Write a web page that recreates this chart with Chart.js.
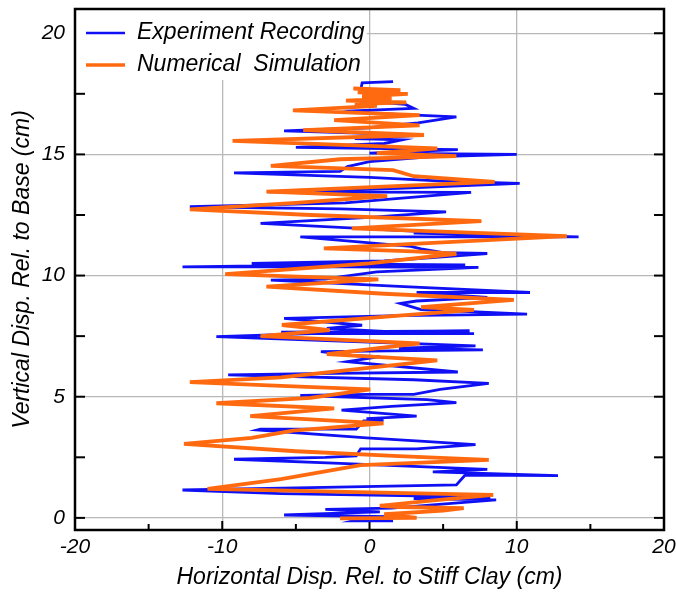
<!DOCTYPE html>
<html>
<head>
<meta charset="utf-8">
<script src="https://cdn.jsdelivr.net/npm/chart.js@4"></script>
<style>
html,body{margin:0;padding:0;background:#fff}
#wrap{width:676px;height:592px}
</style>
</head>
<body>
<div id="wrap"><canvas id="c" width="676" height="592"></canvas></div>
<script>
// ================= DATA =================
const seriesNames=["Experiment Recording","Numerical  Simulation"]
const xTicks=[-20,-10,0,10,20]
const yTicks=[0,5,10,15,20]

// experiment recording (blue), read bottom to top
const expX=[1.6,-1.1,-0.6,1.2,-5.8,-2,0.7,-3,1.5,4.5,8.6,3,8.2,-6,-12.7,-4,5.9,6.5,12.8,4.3,8,-2,-9.2,-3,-0.9,-0.6,3.2,7.2,4,-0.2,-7.6,-7.4,-0.9,-0.4,0.95,-0.2,3.2,-1.9,1.5,5.9,3.9,-4.7,0,3,4.8,8.1,3,-9.6,-4,6,-1.5,0.7,-1,-3.3,7.7,2,7.2,-2,-10.4,-4,7.1,-6,6.8,1,-2.9,-0.5,-5.8,2,10.7,3.5,2.1,3.2,8,3.2,10.9,2,-6.7,-3,-2,0.5,7.4,-2,-12.7,-5,6.5,-8,1,8,5,3.5,2.8,-4.7,14.2,3,4,-7.4,0,5.2,-2,-12.2,-5,-1.65,6.9,-6.9,2,10.2,5,0,-9.2,-2,-1.5,0,4,10,0,6,-5,1,2.2,-1,3.7,-5.8,0,2.4,3.3,5.9,0,-1,3,2.4,-0.3,0.8,-0.6,-0.5,1.6]
const expY=[-0.12,-0.12,-0.05,0.05,0.12,0.2,0.25,0.35,0.4,0.55,0.74,0.8,0.86,1.0,1.15,1.25,1.36,1.77,1.74,1.9,2.0,2.25,2.42,2.5,2.56,2.85,2.85,3.02,3.15,3.3,3.63,3.66,3.66,4.0,4.02,4.1,4.2,4.45,4.6,4.76,4.88,5.05,5.1,5.1,5.3,5.55,5.7,5.9,5.95,6.02,6.45,6.65,6.7,6.86,6.93,7.0,7.1,7.3,7.48,7.6,7.6,7.66,7.72,7.7,7.82,7.95,8.23,8.35,8.41,8.6,8.85,8.95,9.1,9.3,9.3,9.55,9.81,9.85,9.95,10.15,10.34,10.36,10.36,10.42,10.44,10.5,10.6,10.91,10.95,11.1,11.2,11.6,11.6,11.75,11.8,12.15,12.4,12.63,12.75,12.84,12.95,13.0,13.43,13.45,13.6,13.8,13.9,14.05,14.24,14.3,14.5,14.7,14.9,15.0,15.05,15.2,15.29,15.45,15.6,15.65,15.8,15.97,16.1,16.25,16.3,16.55,16.7,16.8,16.9,17.07,17.2,17.25,17.65,17.95,18.0]

// numerical simulation (orange), read bottom to top
const simX=[-2,3.2,1,5,6.4,2,0.7,4,8.4,0,-11,-6,-0.6,8.1,2,-5,-12.6,-8,-5.2,0.95,-8.1,-2.4,-10.4,-4,0.05,-6,-12.2,-6,4.6,-2.9,3.4,-7.4,-2.7,-5.95,2,7.1,3.5,9.8,1,-7,0.6,-9.8,0,5.9,3,-3.1,13.4,-1.2,7.6,-4,-12.2,-5,1.2,-7,8.5,3,1.6,-6.7,-2,5.9,0.5,4.6,-9.3,3.7,-4.5,3.4,-2.4,3.4,-5.2,0.5,-1,2.5,-1.6,1.5,-0.5,2.6,-0.8,2.1,-1.1]
const simY=[-0.02,0.0,0.15,0.3,0.4,0.45,0.5,0.7,0.95,1.05,1.2,1.6,2.18,2.39,2.55,2.75,3.05,3.3,3.6,3.9,4.2,4.52,4.73,4.95,5.3,5.45,5.6,5.8,6.5,6.76,7.2,7.5,7.75,7.96,8.35,8.58,8.7,9.0,9.25,9.54,9.84,10.06,10.5,10.9,11.0,11.12,11.63,11.95,12.25,12.5,12.73,13.0,13.28,13.46,13.87,14.1,14.35,14.53,14.8,14.93,15.05,15.25,15.56,15.8,16.0,16.2,16.41,16.62,16.82,17.0,17.08,17.15,17.22,17.3,17.4,17.5,17.56,17.65,17.72]

const blue="#1010f5"
const orange="#ff6a10"

function toPoints(xs,ys){
return xs.map((x,i)=>({x:x,y:ys[i]}))
}

// no automatic label padding, the layout padding sets the plot box
function noPad(s){
s.paddingTop=0;s.paddingBottom=0;s.paddingLeft=0;s.paddingRight=0
}

// ================= DECORATIONS =================
// inside ticks, frame and the boxed legend
const frame={
id:"frame",
beforeDatasetsDraw(chart){
const ctx=chart.ctx,a=chart.chartArea
const xs=chart.scales.x,ys=chart.scales.y
ctx.save()
ctx.strokeStyle="#000"
ctx.lineWidth=2
;[-20,-15,-10,-5,0,5,10,15,20].forEach(v=>{
let px=xs.getPixelForValue(v)
let len=v%10===0?9:6
ctx.beginPath();ctx.moveTo(px,a.bottom);ctx.lineTo(px,a.bottom-len);ctx.stroke()
})
;[0,2.5,5,7.5,10,12.5,15,17.5,20].forEach(v=>{
let py=ys.getPixelForValue(v)
ctx.beginPath();ctx.moveTo(a.right,py);ctx.lineTo(a.right-10,py);ctx.stroke()
ctx.beginPath();ctx.moveTo(a.left,py);ctx.lineTo(a.left+10,py);ctx.stroke()
})
// legend
ctx.fillStyle="#fff"
ctx.fillRect(a.left+1,a.top+1,291,70)
ctx.font="italic 23px 'Liberation Sans', Arial, sans-serif"
ctx.textBaseline="middle"
ctx.fillStyle="#000"
const rows=[[blue,2.6,33],[orange,3.6,65]]
rows.forEach((r,i)=>{
ctx.strokeStyle=r[0];ctx.lineWidth=r[1]
ctx.beginPath();ctx.moveTo(86,r[2]);ctx.lineTo(125,r[2]);ctx.stroke()
ctx.fillText(seriesNames[i],137,r[2])
})
ctx.restore()
},
afterDraw(chart){
const ctx=chart.ctx,a=chart.chartArea
ctx.save()
ctx.strokeStyle="#000"
ctx.lineWidth=2.5
ctx.strokeRect(a.left,a.top,a.right-a.left,a.bottom-a.top)
ctx.restore()
}
}

// ================= CHART =================
Chart.defaults.font.family="'Liberation Sans', Arial, sans-serif"
Chart.defaults.color="#000"

new Chart(document.getElementById("c"),{
type:"scatter",
data:{
datasets:[
{label:seriesNames[0],data:toPoints(expX,expY),showLine:true,borderColor:blue,backgroundColor:blue,borderWidth:2.8,pointRadius:0,tension:0,order:2},
{label:seriesNames[1],data:toPoints(simX,simY),showLine:true,borderColor:orange,backgroundColor:orange,borderWidth:3.8,pointRadius:0,tension:0,order:1}
]
},
options:{
responsive:false,
animation:false,
layout:{padding:{top:9,right:12,left:0,bottom:0}},
plugins:{legend:{display:false},tooltip:{enabled:false}},
scales:{
x:{
type:"linear",min:-20,max:20,
afterBuildTicks:s=>{s.ticks=xTicks.map(v=>({value:v}))},
afterFit:s=>{s.height=62;noPad(s)},
grid:{color:"#b8b8b8",lineWidth:1.3,drawTicks:false},
border:{display:false},
ticks:{font:{size:21,style:"italic"},padding:5,maxRotation:0},
title:{display:true,text:"Horizontal Disp. Rel. to Stiff Clay (cm)",font:{size:23,style:"italic"},padding:{top:1,bottom:1}}
},
y:{
type:"linear",min:-0.5,max:21,
afterBuildTicks:s=>{s.ticks=yTicks.map(v=>({value:v}))},
afterFit:s=>{s.width=75;noPad(s)},
grid:{color:"#b8b8b8",lineWidth:1.3,drawTicks:false},
border:{display:false},
ticks:{font:{size:21,style:"italic"},padding:10},
title:{display:true,text:"Vertical Disp. Rel. to Base (cm)",font:{size:23,style:"italic"},padding:{top:9,bottom:0}}
}
}
},
plugins:[frame]
})
</script>
</body>
</html>
